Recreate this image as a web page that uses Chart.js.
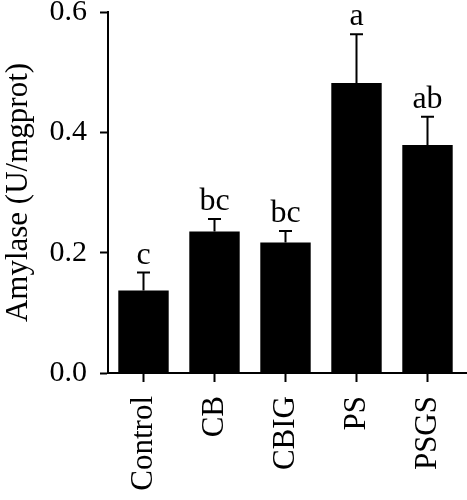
<!DOCTYPE html>
<html>
<head>
<meta charset="utf-8">
<script src="https://cdn.jsdelivr.net/npm/chart.js@4.4.1/dist/chart.umd.min.js"></script>
<style>
  html, body { margin: 0; padding: 0; background: #fff; }
  #wrap { width: 467px; height: 500px; }
</style>
</head>
<body>
<div id="wrap"><canvas id="amylaseChart"></canvas></div>
<script>
// data
var groups = ['Control', 'CB', 'CBIG', 'PS', 'PSGS'];
var amylase = [0.137, 0.235, 0.217, 0.482, 0.379];
var amylaseSD = [0.030, 0.021, 0.019, 0.081, 0.047];
var sigLetters = ['c', 'bc', 'bc', 'a', 'ab'];
var yTicks = [0.0, 0.2, 0.4, 0.6];

var serif = '"Liberation Serif", "DejaVu Serif", serif';

// error bars (upper half only) and significance letters
var errorBarPlugin = {
    id: 'errorBars',
    afterDatasetsDraw: function(chart) {
        var ctx = chart.ctx;
        var meta = chart.getDatasetMeta(0);
        var yScale = chart.scales.y;
        ctx.save();
        ctx.strokeStyle = '#000';
        ctx.lineWidth = 2;
        ctx.fillStyle = '#000';
        ctx.font = '32px ' + serif;
        ctx.textAlign = 'center';
        ctx.textBaseline = 'alphabetic';
        meta.data.forEach(function(bar, i) {
            var yMean = yScale.getPixelForValue(amylase[i]);
            var yTop = yScale.getPixelForValue(amylase[i] + amylaseSD[i]);
            ctx.beginPath();
            ctx.moveTo(bar.x, yMean);
            ctx.lineTo(bar.x, yTop);
            ctx.moveTo(bar.x - 6.5, yTop);
            ctx.lineTo(bar.x + 6.5, yTop);
            ctx.stroke();
            ctx.fillText(sigLetters[i], bar.x, yTop - 9);
        });
        ctx.restore();
    }
};

// x axis line runs on to the right edge in the original
var axisExtend = {
    id: 'axisExtend',
    afterDraw: function(chart) {
        var ctx = chart.ctx;
        var a = chart.chartArea;
        ctx.save();
        ctx.strokeStyle = '#000';
        ctx.lineWidth = 2;
        ctx.beginPath();
        ctx.moveTo(a.right - 1, a.bottom);
        ctx.lineTo(chart.width, a.bottom);
        ctx.stroke();
        ctx.restore();
    }
};

var ctx = document.getElementById('amylaseChart').getContext('2d');
var amylaseChart = new Chart(ctx, {
    type: 'bar',
    data: {
        labels: groups,
        datasets: [{
            label: 'Amylase',
            data: amylase,
            backgroundColor: '#000',
            borderWidth: 0,
            barPercentage: 0.71,
            categoryPercentage: 1.0
        }]
    },
    options: {
        responsive: true,
        maintainAspectRatio: false,
        animation: false,
        layout: {
            padding: { top: 12, right: 4, bottom: 0, left: 0 }
        },
        plugins: {
            legend: { display: false },
            tooltip: { enabled: false }
        },
        scales: {
            x: {
                offset: true,
                grid: {
                    display: true,
                    offset: false,
                    drawOnChartArea: false,
                    drawTicks: true,
                    tickLength: 9,
                    tickWidth: 2,
                    color: '#000'
                },
                border: { display: true, color: '#000', width: 2 },
                ticks: {
                    color: '#000',
                    font: { family: serif, size: 31 },
                    minRotation: 90,
                    maxRotation: 90,
                    padding: 14,
                    autoSkip: false
                },
                afterFit: function(scale) {
                    scale.height = 127;
                    scale.paddingLeft = 0;
                    scale.paddingRight = 0;
                }
            },
            y: {
                min: 0,
                max: 0.6,
                afterBuildTicks: function(scale) {
                    scale.ticks = yTicks.map(function(v) { return { value: v }; });
                },
                grid: {
                    display: true,
                    drawOnChartArea: false,
                    drawTicks: true,
                    tickLength: 8,
                    tickWidth: 2,
                    color: '#000'
                },
                border: { display: true, color: '#000', width: 2 },
                ticks: {
                    color: '#000',
                    font: { family: serif, size: 30, lineHeight: 0.8 },
                    padding: 13,
                    callback: function(v) { return Number(v).toFixed(1); }
                },
                title: {
                    display: true,
                    text: 'Amylase (U/mgprot)',
                    color: '#000',
                    font: { family: serif, size: 31 },
                    padding: { top: 0, bottom: 0 }
                },
                afterFit: function(scale) {
                    scale.width = 108;
                    scale.paddingTop = 0;
                    scale.paddingBottom = 0;
                }
            }
        }
    },
    plugins: [errorBarPlugin, axisExtend]
});
</script>
</body>
</html>
